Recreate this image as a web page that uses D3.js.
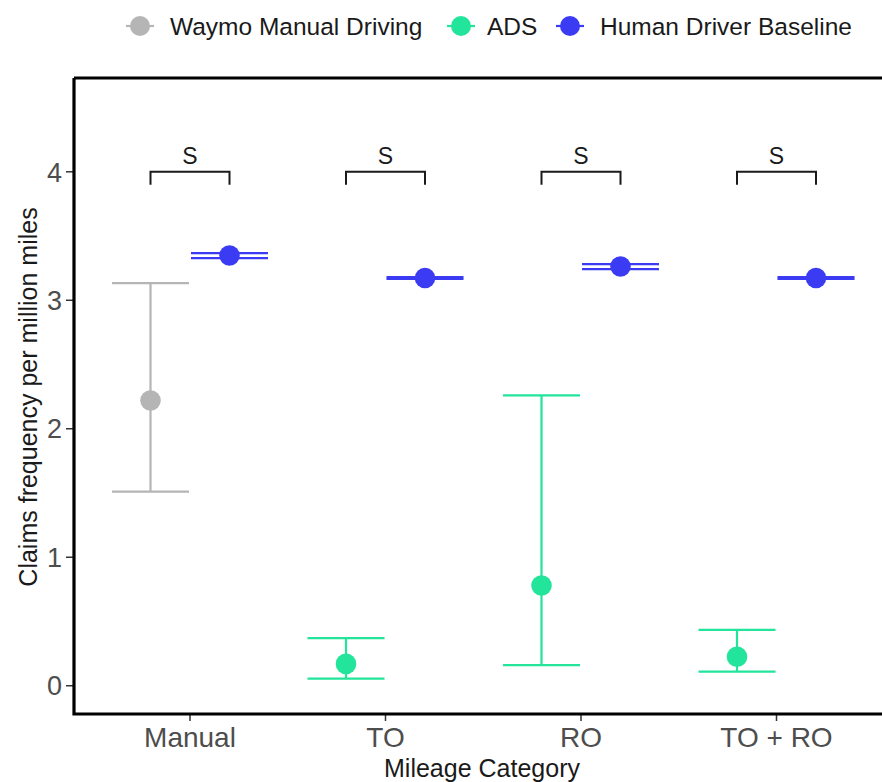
<!DOCTYPE html>
<html><head><meta charset="utf-8">
<script src="https://cdn.jsdelivr.net/npm/d3@7"></script>
<style>body{margin:0;background:#fff;} svg{display:block;font-family:"Liberation Sans",Arial,sans-serif;}</style>
</head><body>
<svg id="c" width="882" height="782"></svg>
<script>
const categories = ["Manual", "TO", "RO", "TO + RO"];
const seriesNames = ["Waymo Manual Driving", "ADS", "Human Driver Baseline"];
const seriesColors = ["#b5b5b5", "#22e49b", "#3b3bf4"];
// left group per category: Manual -> Waymo manual, others -> ADS
const leftSeries = ["Waymo Manual Driving", "ADS", "ADS", "ADS"];
const leftValue = [2.22, 0.17, 0.78, 0.225];
const leftLower = [1.51, 0.055, 0.16, 0.11];
const leftUpper = [3.134, 0.37, 2.26, 0.435];
const baseValue = [3.348, 3.173, 3.263, 3.173];
const baseLower = [3.328, 3.166, 3.243, 3.166];
const baseUpper = [3.367, 3.18, 3.282, 3.18];
const sigLabels = ["S", "S", "S", "S"];
const sigY = 4.0;
const yTicks = [0, 1, 2, 3, 4];

const svg = d3.select("#c");
const L = 74, T = 78, R = 1010, B = 714;
const y = d3.scaleLinear().domain([-0.22, 4.73]).range([B, T]);
const x = d3.scalePoint().domain(categories).range([190, 190 + 3 * 195.5]);
const dodge = 39.5, whisk = 38.5;
const color = d3.scaleOrdinal().domain(seriesNames).range(seriesColors);

const rows = [];
categories.forEach((c, i) => {
  rows.push({cat: c, s: leftSeries[i], v: leftValue[i], lo: leftLower[i], hi: leftUpper[i], off: -dodge});
  rows.push({cat: c, s: "Human Driver Baseline", v: baseValue[i], lo: baseLower[i], hi: baseUpper[i], off: dodge});
});

// error bars
const eb = svg.append("g");
rows.forEach(d => {
  const px = x(d.cat) + d.off, col = color(d.s);
  const g = eb.append("g").attr("stroke", col).attr("stroke-width", 2.2).attr("fill", "none");
  g.append("line").attr("x1", px).attr("x2", px).attr("y1", y(d.lo)).attr("y2", y(d.hi));
  g.append("line").attr("x1", px - whisk).attr("x2", px + whisk).attr("y1", y(d.lo)).attr("y2", y(d.lo));
  g.append("line").attr("x1", px - whisk).attr("x2", px + whisk).attr("y1", y(d.hi)).attr("y2", y(d.hi));
});
svg.append("g").selectAll("circle").data(rows).join("circle")
  .attr("cx", d => x(d.cat) + d.off).attr("cy", d => y(d.v)).attr("r", 10.3)
  .attr("fill", d => color(d.s));

// significance brackets
const br = svg.append("g");
categories.forEach((c, i) => {
  const x1 = x(c) - dodge, x2 = x(c) + dodge;
  const yt = y(sigY), yb = y(sigY - 0.1);
  br.append("path").attr("d", `M${x1},${yb}V${yt}H${x2}V${yb}`)
    .attr("fill", "none").attr("stroke", "#1a1a1a").attr("stroke-width", 2);
  br.append("text").attr("x", x(c)).attr("y", yt - 7.5).attr("text-anchor", "middle")
    .attr("font-size", 23).attr("fill", "#1a1a1a").text(sigLabels[i]);
});

// axes
const ya = svg.append("g");
yTicks.forEach(t => {
  ya.append("line").attr("x1", L - 8).attr("x2", L).attr("y1", y(t)).attr("y2", y(t)).attr("stroke", "#333").attr("stroke-width", 1.5);
  ya.append("text").attr("x", L - 12).attr("y", y(t)).attr("dy", "0.36em").attr("text-anchor", "end")
    .attr("font-size", 27).attr("fill", "#4d4d4d").text(t);
});
categories.forEach(c => {
  svg.append("line").attr("x1", x(c)).attr("x2", x(c)).attr("y1", B).attr("y2", B + 7).attr("stroke", "#333").attr("stroke-width", 1.5);
  svg.append("text").attr("x", x(c)).attr("y", B + 33).attr("text-anchor", "middle")
    .attr("font-size", 28).attr("fill", "#4d4d4d").text(c);
});
svg.append("path").attr("d", `M${L},${T}V${B}H${R}`).attr("fill", "none").attr("stroke", "#000").attr("stroke-width", 3.2);
svg.append("path").attr("d", `M${L},${T}H${R}`).attr("fill", "none").attr("stroke", "#000").attr("stroke-width", 3.2);

svg.append("text").attr("x", 482).attr("y", 777).attr("text-anchor", "middle").attr("font-size", 25).attr("fill", "#1a1a1a").text("Mileage Category");
svg.append("text").attr("transform", `translate(37,397) rotate(-90)`).attr("text-anchor", "middle")
  .attr("font-size", 25).attr("fill", "#1a1a1a").text("Claims frequency per million miles");

// legend
const legX = [140, 461, 570];
const legTX = [170, 487, 600];
const lg = svg.append("g");
seriesNames.forEach((s, i) => {
  lg.append("line").attr("x1", legX[i] - 14).attr("x2", legX[i] + 14).attr("y1", 26).attr("y2", 26).attr("stroke", color(s)).attr("stroke-width", 2.2);
  lg.append("circle").attr("cx", legX[i]).attr("cy", 26).attr("r", 10).attr("fill", color(s));
  lg.append("text").attr("x", legTX[i]).attr("y", 26).attr("dy", "0.36em").attr("font-size", 24.5).attr("fill", "#1a1a1a").text(s);
});
</script>
</body></html>
